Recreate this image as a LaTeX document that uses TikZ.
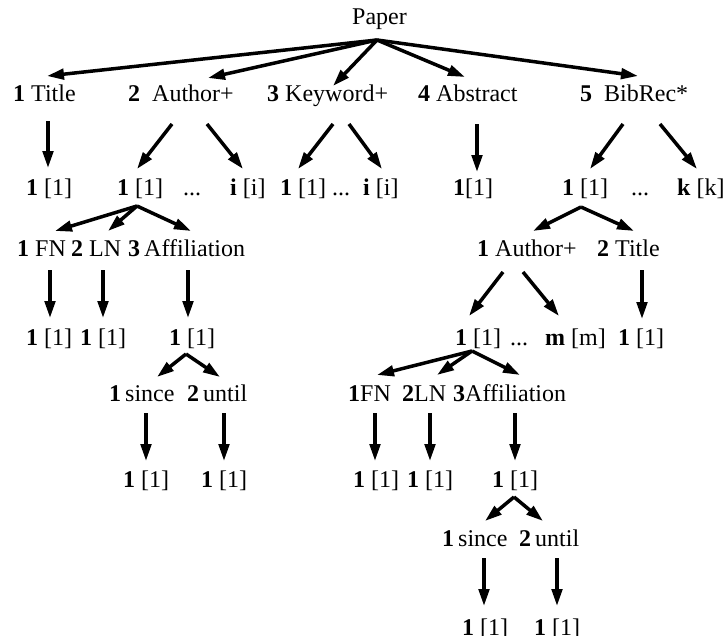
\documentclass[tikz,border=0pt]{standalone}
\usepackage{fontspec}
\setmainfont{Liberation Serif}
\usetikzlibrary{arrows.meta}
\begin{document}
\begin{tikzpicture}[x=1pt,y=-1pt,
  lbl/.style={anchor=base west,inner sep=0pt,font=\fontsize{24}{28}\selectfont},
  arr/.style={line width=3.5pt,-{Triangle[length=17pt,width=10.5pt]}}]
\useasboundingbox (0,0) rectangle (726,635);
% ---------- texts ----------
\node[lbl] (paper) at (352,24) {Paper};
\node[lbl] (title) at (13,101) {\textbf{1} Title};
\node[lbl] (author) at (128,101) {\textbf{2}\ \ Author+};
\node[lbl] (keyword) at (267,101) {\textbf{3} Keyword+};
\node[lbl] (abstract) at (418,101) {\textbf{4} Abstract};
\node[lbl] (bibrec) at (580,101) {\textbf{5}\ \ BibRec*};
% row 2
\node[lbl] (t1) at (26,195) {\textbf{1} [1]};
\node[lbl] (a1) at (117,195) {\textbf{1} [1]};
\node[lbl] (adots) at (183,195) {...};
\node[lbl] (ai) at (230,195) {\textbf{i} [i]};
\node[lbl] (k1) at (280,195) {\textbf{1} [1]};
\node[lbl] (kdots) at (332,195) {...};
\node[lbl] (ki) at (363,195) {\textbf{i} [i]};
\node[lbl] (ab1) at (453,195) {\textbf{1}[1]};
\node[lbl] (b1) at (562,195) {\textbf{1} [1]};
\node[lbl] (bdots) at (631,195) {...};
\node[lbl] (bk) at (677,195) {\textbf{k} [k]};
% row 3
\node[lbl] (fn) at (17,256) {\textbf{1} FN};
\node[lbl] (ln) at (71,256) {\textbf{2} LN};
\node[lbl] (aff) at (128,256) {\textbf{3}\,Affiliation};
\node[lbl] (bauthor) at (477,256) {\textbf{1} Author+};
\node[lbl] (btitle) at (597,256) {\textbf{2} Title};
% row 4
\node[lbl] (fn1) at (26,345) {\textbf{1} [1]};
\node[lbl] (ln1) at (80,345) {\textbf{1} [1]};
\node[lbl] (aff1) at (169,345) {\textbf{1} [1]};
\node[lbl] (ba1) at (455,345) {\textbf{1} [1]};
\node[lbl] (badots) at (510,345) {...};
\node[lbl] (bam) at (545,345) {\textbf{m} [m]};
\node[lbl] (bt1) at (618,345) {\textbf{1} [1]};
% row 5
\node[lbl] (since) at (109,401) {\textbf{1}\,since};
\node[lbl] (until) at (187,401) {\textbf{2}\,until};
\node[lbl] (bfn) at (348,401) {\textbf{1}FN};
\node[lbl] (bln) at (402,401) {\textbf{2}LN};
\node[lbl] (baff) at (453,401) {\textbf{3}Affiliation};
% row 6
\node[lbl] (since1) at (123,487) {\textbf{1} [1]};
\node[lbl] (until1) at (201,487) {\textbf{1} [1]};
\node[lbl] (bfn1) at (353,487) {\textbf{1} [1]};
\node[lbl] (bln1) at (407,487) {\textbf{1} [1]};
\node[lbl] (baff1) at (492,487) {\textbf{1} [1]};
% row 7
\node[lbl] (bsince) at (442,546) {\textbf{1}\,since};
\node[lbl] (buntil) at (519,546) {\textbf{2}\,until};
% row 8
\node[lbl] (bsince1) at (462,635) {\textbf{1} [1]};
\node[lbl] (buntil1) at (534,635) {\textbf{1} [1]};
% ---------- connector ends ----------
\coordinate (pTop) at (377,40);
\coordinate (eTitle) at (47,76);
\coordinate (eAuthor) at (208,78);
\coordinate (eKeyword) at (333,86);
\coordinate (eAbstract) at (465,77);
\coordinate (eBibRec) at (638,76);
\coordinate (sTitle) at (48,121);    \coordinate (eT1) at (48,168);
\coordinate (sAuthorL) at (172,124); \coordinate (eA1) at (137,169);
\coordinate (sAuthorR) at (207,124); \coordinate (eAi) at (243,169);
\coordinate (sKeyL) at (333,124);    \coordinate (eK1) at (298,169);
\coordinate (sKeyR) at (349,124);    \coordinate (eKi) at (382,169);
\coordinate (sAbs) at (477,124);     \coordinate (eAb1) at (477,172);
\coordinate (sBibL) at (623,124);    \coordinate (eB1) at (590,169);
\coordinate (sBibR) at (660,124);    \coordinate (eBk) at (697,169);
\coordinate (pA1) at (137,206);
\coordinate (eFN) at (55,231); \coordinate (eLN) at (108,231); \coordinate (eAff) at (191,231);
\coordinate (pB1) at (581,207);
\coordinate (eBAuthor) at (533,231); \coordinate (eBTitle) at (634,231);
\coordinate (sFN) at (50,270);   \coordinate (eFN1) at (50,318);
\coordinate (sLN) at (103,270);  \coordinate (eLN1) at (103,318);
\coordinate (sAff) at (188,270); \coordinate (eAff1) at (188,318);
\coordinate (sBAuL) at (503,272); \coordinate (eBA1) at (469,316);
\coordinate (sBAuR) at (523,272); \coordinate (eBAm) at (559,316);
\coordinate (sBTi) at (642,270);  \coordinate (eBT1) at (642,319);
\coordinate (pAff1) at (186,354);
\coordinate (eSince) at (157,377); \coordinate (eUntil) at (220,377);
\coordinate (pBA1) at (472,351);
\coordinate (eBFN) at (377,375); \coordinate (eBLN) at (437,375); \coordinate (eBAff) at (520,375);
\coordinate (sSince) at (146,413); \coordinate (eSince1) at (146,461);
\coordinate (sUntil) at (224,413); \coordinate (eUntil1) at (224,461);
\coordinate (sBFN) at (375,413);   \coordinate (eBFN1) at (375,461);
\coordinate (sBLN) at (430,413);   \coordinate (eBLN1) at (430,461);
\coordinate (sBAff) at (515,413);  \coordinate (eBAff1) at (515,461);
\coordinate (pBAff1) at (514,497);
\coordinate (eBSince) at (485,521); \coordinate (eBUntil) at (543,521);
\coordinate (sBSince) at (484,558); \coordinate (eBSince1) at (484,606);
\coordinate (sBUntil) at (557,558); \coordinate (eBUntil1) at (557,606);
% ---------- connectors ----------
\foreach \e in {eTitle,eAuthor,eKeyword,eAbstract,eBibRec} \draw[arr] (pTop) -- (\e);
\draw[arr] (sTitle) -- (eT1);
\draw[arr] (sAuthorL) -- (eA1);
\draw[arr] (sAuthorR) -- (eAi);
\draw[arr] (sKeyL) -- (eK1);
\draw[arr] (sKeyR) -- (eKi);
\draw[arr] (sAbs) -- (eAb1);
\draw[arr] (sBibL) -- (eB1);
\draw[arr] (sBibR) -- (eBk);
\foreach \e in {eFN,eLN,eAff} \draw[arr] (pA1) -- (\e);
\foreach \e in {eBAuthor,eBTitle} \draw[arr] (pB1) -- (\e);
\draw[arr] (sFN) -- (eFN1);
\draw[arr] (sLN) -- (eLN1);
\draw[arr] (sAff) -- (eAff1);
\draw[arr] (sBAuL) -- (eBA1);
\draw[arr] (sBAuR) -- (eBAm);
\draw[arr] (sBTi) -- (eBT1);
\foreach \e in {eSince,eUntil} \draw[arr] (pAff1) -- (\e);
\foreach \e in {eBFN,eBLN,eBAff} \draw[arr] (pBA1) -- (\e);
\draw[arr] (sSince) -- (eSince1);
\draw[arr] (sUntil) -- (eUntil1);
\draw[arr] (sBFN) -- (eBFN1);
\draw[arr] (sBLN) -- (eBLN1);
\draw[arr] (sBAff) -- (eBAff1);
\foreach \e in {eBSince,eBUntil} \draw[arr] (pBAff1) -- (\e);
\draw[arr] (sBSince) -- (eBSince1);
\draw[arr] (sBUntil) -- (eBUntil1);
\end{tikzpicture}
\end{document}
